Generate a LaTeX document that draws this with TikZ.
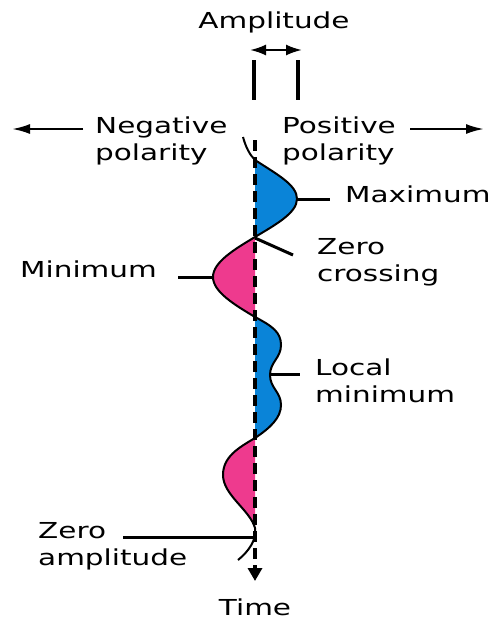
\documentclass[tikz,border=0pt]{standalone}
\usepackage{fontspec}
\newfontfamily\dejavu[FakeStretch=1.34]{DejaVu Sans}
\usepackage{tikz}
\usetikzlibrary{arrows.meta}
\definecolor{waveblue}{HTML}{0A84D8}
\definecolor{wavepink}{HTML}{EE3A8E}
\tikzset{
  txtlabel/.style={font=\dejavu\fontsize{22}{26.5}\selectfont, inner sep=0pt, align=left},
  poslobe/.style={fill=waveblue},
  neglobe/.style={fill=wavepink},
  waveline/.style={draw=black, line width=2pt},
  timeaxis/.style={-{Triangle[width=14pt,length=13pt]}, line width=3.8pt, dash pattern=on 11pt off 6pt},
  leader/.style={line width=3pt},
  dirarrow/.style={-{Latex[length=18pt,width=10pt]}, line width=2.2pt},
  ampbar/.style={line width=3.5pt},
  amparrow/.style={{Latex[length=16pt,width=11pt]}-{Latex[length=16pt,width=11pt]}, line width=2.2pt}
}
\begin{document}
\begin{tikzpicture}[x=1pt, y=-1pt]
  \useasboundingbox (0,0) rectangle (492,619);

  % lobes of the wave
  \fill[poslobe] (255,160) .. controls (278,175) and (297,185) .. (297,199)
    .. controls (297,213) and (275,225) .. (255,237) -- cycle;
  \fill[neglobe] (255,237) .. controls (235,249) and (213,262) .. (213,277)
    .. controls (213,292) and (235,305) .. (255,317) -- cycle;
  \fill[poslobe] (255,317) .. controls (272,326) and (281,332) .. (281,345)
    .. controls (281,358) and (270,362) .. (270,375)
    .. controls (270,388) and (281,392) .. (281,405)
    .. controls (281,418) and (270,428) .. (255,438) -- cycle;
  \fill[neglobe] (255,438) .. controls (238,448) and (223,457) .. (223,475)
    .. controls (223,495) and (250,510) .. (255,528) -- cycle;

  % named points
  \coordinate (top) at (255,140);
  \coordinate (bottom) at (255,581);
  \coordinate (max) at (297,199);
  \coordinate (maxend) at (330,199);
  \coordinate (cross) at (255,238);
  \coordinate (crossend) at (293,255);
  \coordinate (min) at (213,277);
  \coordinate (minend) at (178,277);
  \coordinate (locmin) at (270,374);
  \coordinate (locminend) at (300,374);
  \coordinate (zero) at (254,537);
  \coordinate (zeroend) at (123,537);
  \coordinate (leftA) at (83,129);
  \coordinate (leftB) at (12,129);
  \coordinate (rightA) at (410,129);
  \coordinate (rightB) at (484,129);
  \coordinate (barL) at (254,60);
  \coordinate (barR) at (298,60);

  \draw[timeaxis] (top) -- (bottom);

  \draw[waveline] (243,137) .. controls (246,148) and (250,155) .. (255,160)
    .. controls (278,175) and (297,185) .. (297,199)
    .. controls (297,213) and (275,225) .. (255,237)
    .. controls (235,249) and (213,262) .. (213,277)
    .. controls (213,292) and (235,305) .. (255,317)
    .. controls (272,326) and (281,332) .. (281,345)
    .. controls (281,358) and (270,362) .. (270,375)
    .. controls (270,388) and (281,392) .. (281,405)
    .. controls (281,418) and (270,428) .. (255,438)
    .. controls (238,448) and (223,457) .. (223,475)
    .. controls (223,495) and (250,510) .. (255,528)
    .. controls (257,540) and (248,552) .. (238,560);

  % labels
  \node[txtlabel, anchor=base] (amp) at (274,28) {Amplitude};
  \node[txtlabel, anchor=base west] (neg) at (95,160) {Negative\\polarity};
  \node[txtlabel, anchor=base west] (pos) at (282,160) {Positive\\polarity};
  \node[txtlabel, anchor=base west] (maxlbl) at (345,202) {Maximum};
  \node[txtlabel, anchor=base west] (crosslbl) at (317,281) {Zero\\crossing};
  \node[txtlabel, anchor=base west] (minlbl) at (20,277) {Minimum};
  \node[txtlabel, anchor=base west] (locminlbl) at (315,402) {Local\\minimum};
  \node[txtlabel, anchor=base west] (zerolbl) at (38,565) {Zero\\amplitude};
  \node[txtlabel, anchor=base] (timelbl) at (255,615) {Time};

  % amplitude marker
  \draw[ampbar] (barL) -- ++(0,40);
  \draw[ampbar] (barR) -- ++(0,40);
  \draw[amparrow] ([shift={(-4,-10)}]barL) -- ([shift={(4,-10)}]barR);

  % polarity arrows
  \draw[dirarrow] (leftA) -- (leftB);
  \draw[dirarrow] (rightA) -- (rightB);

  % leaders
  \draw[leader] (max) -- (maxend);
  \draw[leader] (cross) -- (crossend);
  \draw[leader] (min) -- (minend);
  \draw[leader] (locmin) -- (locminend);
  \draw[leader] (zero) -- (zeroend);
\end{tikzpicture}
\end{document}
